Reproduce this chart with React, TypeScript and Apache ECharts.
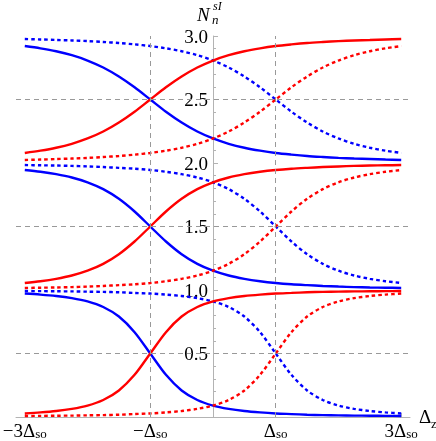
import React, { useEffect, useRef } from "react";
import * as echarts from "echarts";

// x positions in units of Δso
const xValues = [
  -3, -2.75, -2.5, -2.25, -2, -1.75, -1.5, -1.25, -1, -0.75, -0.5, -0.25, 0,
  0.25, 0.5, 0.75, 1, 1.25, 1.5, 1.75, 2, 2.25, 2.5, 2.75, 3,
];

// n = 0
const solidRed0 = [0.028, 0.036, 0.047, 0.064, 0.09, 0.134, 0.209, 0.332, 0.5, 0.668, 0.791, 0.866, 0.91, 0.936, 0.953, 0.964, 0.972, 0.977, 0.982, 0.985, 0.987, 0.989, 0.99, 0.991, 0.992];
const solidBlue0 = [0.972, 0.964, 0.953, 0.936, 0.91, 0.866, 0.791, 0.668, 0.5, 0.332, 0.209, 0.134, 0.09, 0.064, 0.047, 0.036, 0.028, 0.023, 0.018, 0.015, 0.013, 0.011, 0.01, 0.009, 0.008];
const dottedRed0 = [0.008, 0.009, 0.01, 0.011, 0.013, 0.015, 0.018, 0.023, 0.028, 0.036, 0.047, 0.064, 0.09, 0.134, 0.209, 0.332, 0.5, 0.668, 0.791, 0.866, 0.91, 0.936, 0.953, 0.964, 0.972];
const dottedBlue0 = [0.992, 0.991, 0.99, 0.989, 0.987, 0.985, 0.982, 0.977, 0.972, 0.964, 0.953, 0.936, 0.91, 0.866, 0.791, 0.668, 0.5, 0.332, 0.209, 0.134, 0.09, 0.064, 0.047, 0.036, 0.028];

// n = 1
const solidRed1 = [1.055, 1.069, 1.088, 1.114, 1.152, 1.206, 1.282, 1.382, 1.5, 1.618, 1.718, 1.794, 1.848, 1.886, 1.912, 1.931, 1.945, 1.955, 1.962, 1.968, 1.973, 1.977, 1.98, 1.982, 1.984];
const solidBlue1 = [1.945, 1.931, 1.912, 1.886, 1.848, 1.794, 1.718, 1.618, 1.5, 1.382, 1.282, 1.206, 1.152, 1.114, 1.088, 1.069, 1.055, 1.045, 1.038, 1.032, 1.027, 1.023, 1.02, 1.018, 1.016];
const dottedRed1 = [1.016, 1.018, 1.02, 1.023, 1.027, 1.032, 1.038, 1.045, 1.055, 1.069, 1.088, 1.114, 1.152, 1.206, 1.282, 1.382, 1.5, 1.618, 1.718, 1.794, 1.848, 1.886, 1.912, 1.931, 1.945];
const dottedBlue1 = [1.984, 1.982, 1.98, 1.977, 1.973, 1.968, 1.962, 1.955, 1.945, 1.931, 1.912, 1.886, 1.848, 1.794, 1.718, 1.618, 1.5, 1.382, 1.282, 1.206, 1.152, 1.114, 1.088, 1.069, 1.055];

// n = 2
const solidRed2 = [2.079, 2.097, 2.12, 2.151, 2.193, 2.248, 2.319, 2.404, 2.5, 2.596, 2.681, 2.752, 2.807, 2.849, 2.88, 2.903, 2.921, 2.934, 2.945, 2.953, 2.96, 2.965, 2.969, 2.973, 2.976];
const solidBlue2 = [2.921, 2.903, 2.88, 2.849, 2.807, 2.752, 2.681, 2.596, 2.5, 2.404, 2.319, 2.248, 2.193, 2.151, 2.12, 2.097, 2.079, 2.066, 2.055, 2.047, 2.04, 2.035, 2.031, 2.027, 2.024];
const dottedRed2 = [2.024, 2.027, 2.031, 2.035, 2.04, 2.047, 2.055, 2.066, 2.079, 2.097, 2.12, 2.151, 2.193, 2.248, 2.319, 2.404, 2.5, 2.596, 2.681, 2.752, 2.807, 2.849, 2.88, 2.903, 2.921];
const dottedBlue2 = [2.976, 2.973, 2.969, 2.965, 2.96, 2.953, 2.945, 2.934, 2.921, 2.903, 2.88, 2.849, 2.807, 2.752, 2.681, 2.596, 2.5, 2.404, 2.319, 2.248, 2.193, 2.151, 2.12, 2.097, 2.079];

// ticks
const xTickValues = [-3, -1, 1, 3];
const xTickLabels = ["−3Δ", "−Δ", "Δ", "3Δ"];
const xTickSub = "so";
const yTickValues = [0.5, 1.0, 1.5, 2.0, 2.5, 3.0];
const gridY = [0.5, 1.5, 2.5];
const gridX = [-1, 1];

const BLUE = "#0000ff";
const RED = "#ff0000";
const AXIS = "#b3b3b3";
const SERIF = "'Liberation Serif', 'DejaVu Serif', serif";

const curves: { data: number[]; color: string; dotted: boolean }[] = [
  { data: solidBlue0, color: BLUE, dotted: false },
  { data: dottedBlue0, color: BLUE, dotted: true },
  { data: solidBlue1, color: BLUE, dotted: false },
  { data: dottedBlue1, color: BLUE, dotted: true },
  { data: solidBlue2, color: BLUE, dotted: false },
  { data: dottedBlue2, color: BLUE, dotted: true },
  { data: solidRed0, color: RED, dotted: false },
  { data: dottedRed0, color: RED, dotted: true },
  { data: solidRed1, color: RED, dotted: false },
  { data: dottedRed1, color: RED, dotted: true },
  { data: solidRed2, color: RED, dotted: false },
  { data: dottedRed2, color: RED, dotted: true },
];

export default function App() {
  const ref = useRef<HTMLDivElement>(null);
  useEffect(() => {
    if (!ref.current) return;
    const chart = echarts.init(ref.current, null, { renderer: "svg" });
    const series: any[] = [
      {
        type: "line",
        data: [],
        silent: true,
        markLine: {
          silent: true,
          symbol: "none",
          label: { show: false },
          lineStyle: { color: "#999999", width: 1, type: [5, 4] },
          data: [
            ...gridY.map((v) => ({ yAxis: v })),
            ...gridX.map((v) => ({ xAxis: v })),
          ],
        },
      },
      ...curves.map((c) => ({
        type: "line",
        showSymbol: false,
        smooth: 0.3,
        silent: true,
        data: xValues.map((x, i) => [x, c.data[i]]),
        lineStyle: {
          color: c.color,
          width: 2.4,
          type: c.dotted ? [3.5, 3] : "solid",
        },
      })),
    ];
    chart.setOption({
      animation: false,
      grid: [
        { left: 16, right: 26, top: 36, bottom: 24, containLabel: false, outerBoundsMode: "none" },
        { left: 213, right: 0, top: 36, bottom: 24, containLabel: false, outerBoundsMode: "none" },
      ],
      xAxis: [
        {
          type: "value",
          gridIndex: 0,
          min: -3.14,
          max: 3.14,
          axisLine: { onZero: false, lineStyle: { color: AXIS, width: 1 } },
          axisTick: {
            show: true,
            inside: true,
            length: 4,
            customValues: xTickValues,
            lineStyle: { color: AXIS },
          },
          splitLine: { show: false },
          axisLabel: {
            customValues: xTickValues,
            margin: 4,
            formatter: (v: number) => {
              const i = xTickValues.indexOf(v);
              return i < 0 ? "" : `{m|${xTickLabels[i]}}{s|${xTickSub}}`;
            },
            rich: {
              m: { fontFamily: SERIF, fontSize: 19, color: "#000", lineHeight: 19 },
              s: { fontFamily: SERIF, fontSize: 13, color: "#000", padding: [6, 0, 0, 0] },
            },
          },
        },
        {
          type: "value",
          gridIndex: 1,
          min: 0,
          max: 1,
          show: false,
        },
      ],
      yAxis: [
        {
          type: "value",
          gridIndex: 0,
          min: 0,
          max: 3,
          interval: 0.5,
          show: false,
        },
        {
          type: "value",
          gridIndex: 1,
          position: "left",
          min: 0,
          max: 3,
          interval: 0.5,
          axisLine: { show: true, onZero: false, lineStyle: { color: AXIS, width: 1 } },
          axisTick: {
            show: true,
            inside: true,
            length: 5,
            lineStyle: { color: AXIS },
          },
          minorTick: {
            show: true,
            splitNumber: 5,
            length: 3,
            lineStyle: { color: AXIS },
          },
          splitLine: { show: false },
          minorSplitLine: { show: false },
          axisLabel: {
            customValues: yTickValues,
            margin: 5,
            fontFamily: SERIF,
            fontSize: 19,
            color: "#000",
            formatter: (v: number) => v.toFixed(1),
          },
        },
      ],
      graphic: [
        {
          type: "text",
          x: 197,
          y: 5,
          style: { text: "N", fontFamily: SERIF, fontStyle: "italic", fontSize: 19, fill: "#000" },
        },
        {
          type: "text",
          x: 213,
          y: 0,
          style: { text: "sI", fontFamily: SERIF, fontStyle: "italic", fontSize: 12, fill: "#000" },
        },
        {
          type: "text",
          x: 212,
          y: 13,
          style: { text: "n", fontFamily: SERIF, fontStyle: "italic", fontSize: 13, fill: "#000" },
        },
        {
          type: "text",
          x: 419,
          y: 407,
          style: { text: "Δ", fontFamily: SERIF, fontSize: 19, fill: "#000" },
        },
        {
          type: "text",
          x: 431,
          y: 417,
          style: { text: "z", fontFamily: SERIF, fontSize: 13, fill: "#000" },
        },
      ],
      series,
    });
    return () => chart.dispose();
  }, []);
  return (
    <div
      ref={ref}
      style={{ position: "fixed", left: 0, top: 0, width: 436, height: 441 }}
    />
  );
}
